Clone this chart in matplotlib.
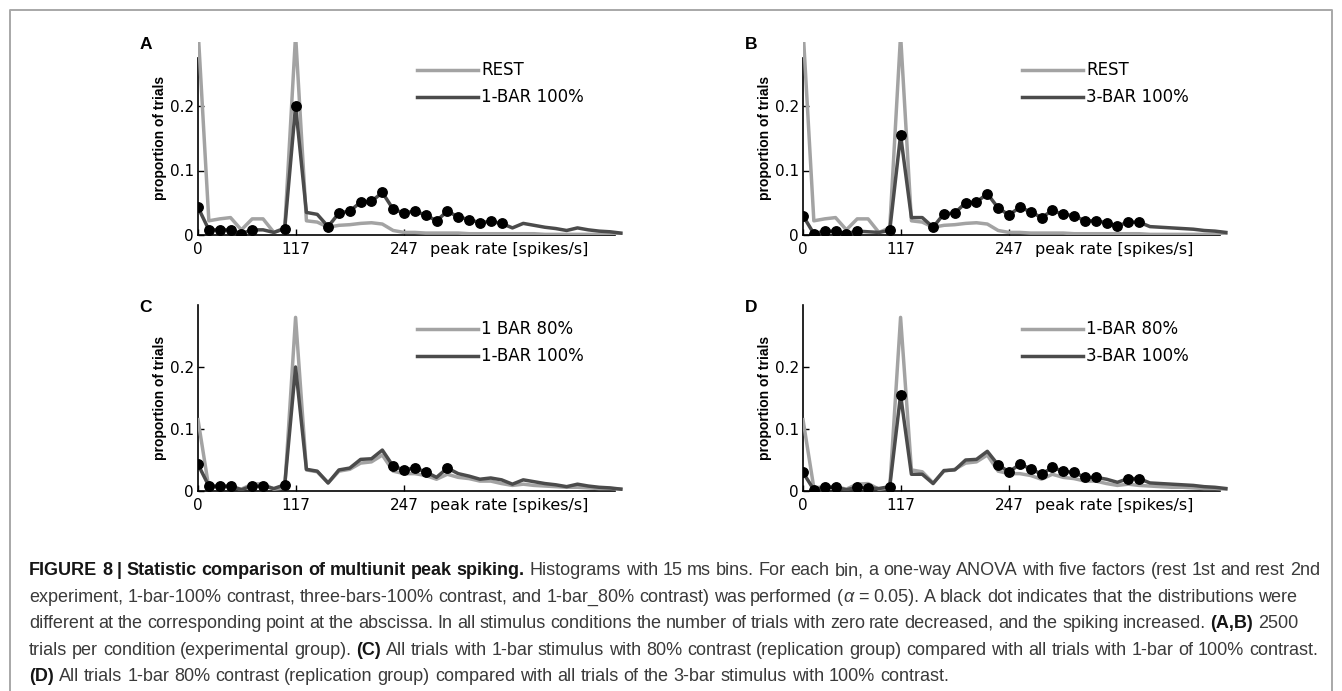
import matplotlib
matplotlib.use("Agg")
import matplotlib.pyplot as plt
from matplotlib import font_manager
from matplotlib.lines import Line2D
from matplotlib.patches import Rectangle

W, H = 1342, 691

# histogram bins of the multiunit peak rate (spikes/s)
peak_rate = [0, 13, 26, 39, 52, 65, 78, 91, 104, 117, 130, 143, 156, 169, 182, 195,
             208, 221, 234, 247, 260, 273, 286, 299, 312, 325, 338, 351, 364, 377,
             390, 403, 416, 429, 442, 455, 468, 481, 494, 507]

# proportion of trials per bin for each condition
rest = [0.32, 0.022, 0.025, 0.027, 0.008, 0.025, 0.025, 0.004, 0.011, 0.31,
        0.022, 0.020, 0.012, 0.015, 0.016, 0.018, 0.019, 0.017, 0.007, 0.004,
        0.004, 0.003, 0.003, 0.003, 0.003, 0.002, 0.002, 0.002, 0.002, 0.002,
        0.002, 0.002, 0.001, 0.001, 0.001, 0.001, 0.001, 0.001, 0.001, 0.001]
bar1_100 = [0.043, 0.008, 0.008, 0.008, 0.002, 0.008, 0.008, 0.004, 0.010, 0.200,
            0.035, 0.032, 0.013, 0.034, 0.037, 0.051, 0.052, 0.066, 0.040, 0.034,
            0.037, 0.031, 0.022, 0.037, 0.028, 0.024, 0.019, 0.021, 0.018, 0.011,
            0.018, 0.015, 0.012, 0.010, 0.007, 0.011, 0.008, 0.006, 0.005, 0.003]
bar3_100 = [0.030, 0.002, 0.006, 0.006, 0.002, 0.006, 0.005, 0.004, 0.007, 0.155,
            0.027, 0.027, 0.012, 0.033, 0.034, 0.050, 0.051, 0.064, 0.042, 0.031,
            0.043, 0.036, 0.027, 0.038, 0.032, 0.030, 0.022, 0.022, 0.019, 0.014,
            0.020, 0.020, 0.013, 0.012, 0.011, 0.010, 0.009, 0.007, 0.006, 0.004]
bar1_80 = [0.115, 0.005, 0.007, 0.007, 0.003, 0.011, 0.012, 0.003, 0.005, 0.280,
           0.034, 0.031, 0.013, 0.032, 0.035, 0.045, 0.047, 0.058, 0.032, 0.028,
           0.028, 0.025, 0.019, 0.027, 0.022, 0.020, 0.016, 0.016, 0.012, 0.009,
           0.011, 0.009, 0.008, 0.007, 0.006, 0.006, 0.005, 0.004, 0.004, 0.003]

# bins where the ANOVA found a difference (indices into peak_rate)
sig_a = [0, 1, 2, 3, 4, 5, 8, 9, 12, 13, 14, 15, 16, 17, 18, 19, 20, 21, 22, 23,
         24, 25, 26, 27, 28]
sig_b = [0, 1, 2, 3, 4, 5, 8, 9, 12, 13, 14, 15, 16, 17, 18, 19, 20, 21, 22, 23,
         24, 25, 26, 27, 28, 29, 30, 31]
sig_c = [0, 1, 2, 3, 5, 6, 8, 18, 19, 20, 21, 23]
sig_d = [0, 1, 2, 3, 5, 6, 8, 9, 18, 19, 20, 21, 22, 23, 24, 25, 26, 27, 30, 31]

x_ticks = [0, 117, 247]
y_ticks = [0, 0.1, 0.2]
y_tick_labels = ["0", "0.1", "0.2"]

GRAY = "#a3a3a3"
DARK = "#4b4b4b"
LW = 2.5

installed = {f.name for f in font_manager.fontManager.ttflist}
NARROW = "Liberation Sans Narrow" if "Liberation Sans Narrow" in installed else "Liberation Sans"

PANELS = [
    dict(letter="A", box=(198, 41.5, 615, 235), light=rest, light_label="REST",
         dark=bar1_100, dark_label="1-BAR 100%", sig=sig_a, spine_top=0.275, legend_y=(70, 97)),
    dict(letter="B", box=(803, 41.5, 1220, 235), light=rest, light_label="REST",
         dark=bar3_100, dark_label="3-BAR 100%", sig=sig_b, spine_top=0.275, legend_y=(70, 97)),
    dict(letter="C", box=(198, 305, 615, 491), light=bar1_80, light_label="1 BAR 80%",
         dark=bar1_100, dark_label="1-BAR 100%", sig=sig_c, spine_top=0.3, legend_y=(329, 356)),
    dict(letter="D", box=(803, 305, 1220, 491), light=bar1_80, light_label="1-BAR 80%",
         dark=bar3_100, dark_label="3-BAR 100%", sig=sig_d, spine_top=0.3, legend_y=(329, 356)),
]

CAPTION = [
    ([("FIGURE 8 | Statistic comparison of multiunit peak spiking.", "bold"),
      (" Histograms with 15 ms bins. For each bin, a one-way ANOVA with five factors (rest 1st and rest 2nd", "normal")], 1320),
    ([("experiment, 1-bar-100% contrast, three-bars-100% contrast, and 1-bar_80% contrast) was performed (", "normal"),
      ("α", "italic"),
      (" = 0.05). A black dot indicates that the distributions were", "normal")], 1297),
    ([("different at the corresponding point at the abscissa. In all stimulus conditions the number of trials with zero rate decreased, and the spiking increased.", "normal"),
      (" (A,B)", "bold"), (" 2500", "normal")], 1298),
    ([("trials per condition (experimental group).", "normal"), (" (C)", "bold"),
      (" All trials with 1-bar stimulus with 80% contrast (replication group) compared with all trials with 1-bar of 100% contrast.", "normal")], 1318),
    ([("(D)", "bold"),
      (" All trials 1-bar 80% contrast (replication group) compared with all trials of the 3-bar stimulus with 100% contrast.", "normal")], None),
]
CAPTION_X = 29
CAPTION_BASELINES = [575, 602, 628, 655, 681]


def fx(x):
    return x / W


def fy(y):
    return 1 - y / H


def draw_panel(fig, p):
    left, top, right, bottom = p["box"]
    width, height = right - left, bottom - top
    ax = fig.add_axes([fx(left), fy(bottom), width / W, height / H])
    ax.set_xlim(0, 500)
    ax.set_ylim(0, 0.3)

    # let the last bin run just past the axis end, but cut the peaks at the top
    clip = Rectangle((0, 0), 1.03, 1.0, transform=ax.transAxes)
    for series, color in ((p["light"], GRAY), (p["dark"], DARK)):
        (line,) = ax.plot(peak_rate, series, color=color, lw=LW, zorder=3)
        line.set_clip_path(clip)
    ax.plot([peak_rate[i] for i in p["sig"]], [p["dark"][i] for i in p["sig"]],
            "o", color="black", ms=6.8, zorder=4)

    for side in ("top", "right"):
        ax.spines[side].set_visible(False)
    for side in ("left", "bottom"):
        ax.spines[side].set_linewidth(1.2)
    ax.spines["left"].set_bounds(0, p["spine_top"])

    ax.set_xticks(x_ticks)
    ax.set_xticklabels([str(t) for t in x_ticks])
    ax.set_yticks(y_ticks)
    ax.set_yticklabels(y_tick_labels)
    ax.tick_params(direction="in", length=4, width=1, labelsize=11)
    ax.tick_params(axis="x", pad=5)
    ax.tick_params(axis="y", pad=3)

    ax.set_xlabel("peak rate [spikes/s]", fontsize=11.5, ha="left", va="top")
    ax.xaxis.set_label_coords(232 / width, -7 / height)
    ax.set_ylabel("proportion of trials", fontsize=10, fontweight="bold",
                  family=NARROW, va="center")
    ax.yaxis.set_label_coords(-38 / width, 0.5)

    fig.text(fx(left - 52), fy(top + 3), p["letter"], ha="center", va="center",
             fontsize=12.5, fontweight="bold", family="Liberation Sans")

    x0 = left + 219
    for y, color, label in zip(p["legend_y"], (GRAY, DARK), (p["light_label"], p["dark_label"])):
        fig.add_artist(Line2D([fx(x0), fx(x0 + 61)], [fy(y), fy(y)],
                              transform=fig.transFigure, color=color, lw=LW))
        fig.text(fx(x0 + 64), fy(y), label, ha="left", va="center", fontsize=12)


def draw_caption(fig):
    renderer = fig.canvas.get_renderer()
    kw = dict(family="Liberation Sans", fontsize=13.0)
    styles = {
        "bold": dict(fontweight="bold", color="#151515"),
        "normal": dict(color="#3a3a3a"),
        "italic": dict(style="italic", color="#3a3a3a"),
    }

    def width(t):
        return t.get_window_extent(renderer).width

    probe_a = fig.text(0, 0, "x x", **kw)
    probe_b = fig.text(0, 0, "xx", **kw)
    space = width(probe_a) - width(probe_b)
    probe_a.remove()
    probe_b.remove()

    # spread the words of each line so it ends at the given right edge
    for (runs, right_edge), base in zip(CAPTION, CAPTION_BASELINES):
        words = []
        for text, style in runs:
            for k, word in enumerate(text.split(" ")):
                if word:
                    gap = bool(words) and k > 0
                    t = fig.text(0, fy(base), word, va="baseline", ha="left", **kw, **styles[style])
                    words.append([t, width(t), gap])
        n_gaps = sum(1 for w in words if w[2])
        extra = 0.0
        if right_edge is not None and n_gaps:
            natural = sum(w[1] for w in words) + n_gaps * space
            extra = (right_edge - CAPTION_X - natural) / n_gaps
        x = CAPTION_X
        for t, w, gap in words:
            if gap:
                x += space + extra
            t.set_x(fx(x))
            x += w


fig = plt.figure(figsize=(W / 100, H / 100), dpi=100)
fig.patch.set_facecolor("white")

# thin frame around figure and caption
fig.add_artist(Line2D([fx(10), fx(10), fx(1332), fx(1332)], [fy(720), fy(10), fy(10), fy(720)],
                      transform=fig.transFigure, color="#a8a8a8", lw=1.4))

for panel in PANELS:
    draw_panel(fig, panel)

draw_caption(fig)

fig.savefig("out.png", dpi=100)
